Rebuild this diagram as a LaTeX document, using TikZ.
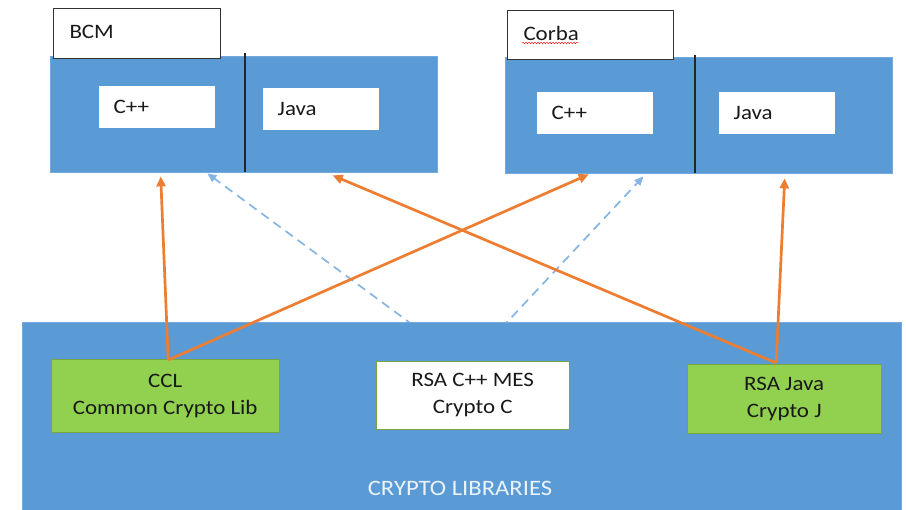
\documentclass[tikz,border=0pt]{standalone}
\usepackage{fontspec}
\setmainfont{Carlito}[FakeStretch=1.12]
\usetikzlibrary{
  arrows.meta,
  positioning,
  calc,
  backgrounds,
  decorations.pathmorphing
}
\usepackage{xcolor}
\definecolor{officeBlue}{HTML}{5B9BD5}
\definecolor{officeOrange}{HTML}{ED7D31}
\definecolor{limeGreen}{HTML}{92D050}
\definecolor{paleBlue}{HTML}{86B4E3}
\tikzset{
  layerBox/.style={
    rectangle,
    anchor=north west,
    fill=officeBlue,
    draw=officeBlue!85!white,
    inner sep=0pt
  }
}
\tikzset{
  tagBox/.style={
    rectangle,
    anchor=north west,
    fill=white,
    draw=black!80,
    line width=1pt,
    inner xsep=16pt,
    align=left,
    text=black!90,
    font=\fontsize{20.5}{25}\selectfont
  }
}
\tikzset{
  langBox/.style={
    rectangle,
    anchor=north west,
    fill=white,
    draw=white,
    inner xsep=14.5pt,
    text width=86pt,
    minimum height=41pt,
    align=left,
    text=black!90,
    font=\fontsize{20.5}{25}\selectfont
  }
}
\tikzset{
  libBox/.style={
    rectangle,
    anchor=north west,
    draw=limeGreen!80!black,
    inner sep=0pt,
    align=center,
    text=black!90,
    font=\fontsize{20.5}{27}\selectfont
  }
}
\tikzset{
  divider/.style={draw=black!85, line width=1.3pt},
  uses/.style={draw=officeOrange, line width=2.7pt, -{Triangle[length=10pt,width=9pt]}},
  mayUse/.style={draw=paleBlue, line width=1.7pt, dash pattern=on 9pt off 6pt,
    -{Triangle[length=9pt,width=8pt]}}
}

\begin{document}
\begin{tikzpicture}[x=1pt, y=-1pt]
  \useasboundingbox (0,0) rectangle (906,510);
  \node[layerBox, minimum width=387pt, minimum height=116pt] (bcm) at (50,56) {};
  \node[tagBox, text width=135pt, minimum height=50pt] (bcmtag) at (53,8) {BCM\vphantom{p}\\[-4pt]};
  \node[langBox] (bcmcpp) at (99,86) {C++};
  \node[langBox] (bcmjava) at (263,88) {Java};
  \draw[divider] ($(bcm.north west)+(195,-3)$) -- ($(bcm.south west)+(195,0)$);

  \node[layerBox, minimum width=387pt, minimum height=116pt] (corba) at (505,57) {};
  \node[tagBox, text width=134pt, minimum height=49pt] (corbatag) at (507,10) {Corba\vphantom{p}\\[-4pt]};
  \draw[red, decorate, decoration={snake, amplitude=0.8pt, segment length=3pt}]
    ($(corbatag.north west)+(15,33)$) -- ($(corbatag.north west)+(72,33)$);
  \node[langBox] (corbacpp) at (537,92) {C++};
  \node[langBox] (corbajava) at (719,92) {Java};
  \draw[divider] ($(corba.north west)+(190,-2)$) -- ($(corba.south west)+(190,0)$);

  \node[layerBox, minimum width=879pt, minimum height=192pt] (crypto) at (22,322) {};
  \node[text=white!88!officeBlue, font=\fontsize{22}{26}\selectfont]
    (cryptolabel) at (460,488) {CRYPTO LIBRARIES};
  \node[libBox, fill=limeGreen, minimum width=228pt, minimum height=73pt]
    (ccl) at (51,359) {CCL\\Common Crypto Lib};
  \node[libBox, fill=white, minimum width=193pt, minimum height=68pt]
    (rsac) at (376,361) {RSA C++ MES\\Crypto C};
  \node[libBox, fill=limeGreen, minimum width=194pt, minimum height=69pt]
    (rsaj) at (687,364) {RSA Java\\Crypto J};

  \coordinate (ctop) at ($(ccl.north)+(3,1)$);
  \coordinate (jtop) at ($(rsaj.north)+(-8,-1)$);

  \begin{scope}[on background layer]
    \draw[mayUse] ($(rsac.north)+(-11,0)$) -- ($(bcmcpp.south east |- bcm.south)+(-7,1)$);
    \draw[mayUse] ($(rsac.north)+(-2,0)$) -- ($(corbacpp.south east |- corba.south)+(-9,3)$);
  \end{scope}

  \draw[uses] (ctop) -- ($(bcmcpp.south |- bcm.south)+(4,4)$);
  \draw[uses] (ctop) -- ($(corbacpp.south |- corba.south)+(-6,1)$);
  \draw[uses] (jtop) -- ($(bcmjava.south |- bcm.south)+(12,3)$);
  \draw[uses] (jtop) -- ($(corbajava.south |- corba.south)+(8,5)$);
\end{tikzpicture}
\end{document}
